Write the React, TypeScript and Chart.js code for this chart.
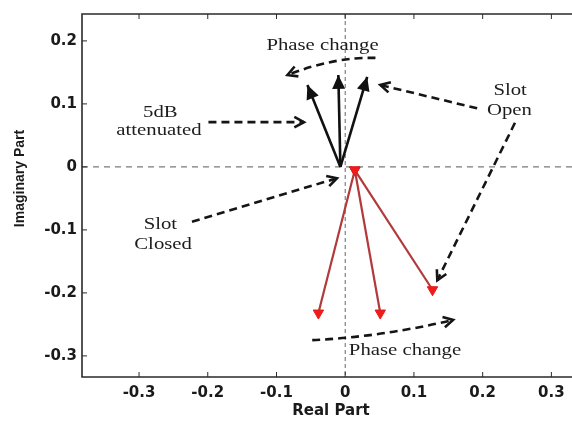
import React, { useEffect, useRef } from 'react';
import { Chart, registerables } from 'chart.js';
Chart.register(...registerables);

// ---- axis ticks ----
const xTickValues = [-0.3, -0.2, -0.1, 0, 0.1, 0.2, 0.3];
const xTickLabels = ['-0.3', '-0.2', '-0.1', '0', '0.1', '0.2', '0.3'];
const yTickValues = [-0.3, -0.2, -0.1, 0, 0.1, 0.2];
const yTickLabels = ['-0.3', '-0.2', '-0.1', '0', '0.1', '0.2'];

// ---- phasors (black: attenuated / phase change, red: other state) ----
const blackOrigin = [-0.007, 0.0];
const blackTipReal = [-0.055, -0.010, 0.032];
const blackTipImag = [0.130, 0.146, 0.143];

const redOrigin = [0.014, -0.005];
const redTipReal = [-0.039, 0.051, 0.127];
const redTipImag = [-0.232, -0.232, -0.195];

// ---- annotation texts (data coords of text centres) ----
const noteTexts = ['Phase change', '5dB', 'attenuated', 'Slot', 'Open', 'Slot', 'Closed', 'Phase change'];
const noteReal = [-0.033, -0.269, -0.271, 0.240, 0.239, -0.269, -0.265, 0.087];
const noteImag = [0.193, 0.086, 0.057, 0.122, 0.090, -0.091, -0.124, -0.292];

// ---- dashed pointer arrows: start, end, optional control (data coords) ----
const pointerStartReal = [0.044, -0.199, 0.192, 0.247, -0.223, -0.048];
const pointerStartImag = [0.173, 0.071, 0.093, 0.070, -0.087, -0.275];
const pointerEndReal = [-0.084, -0.060, 0.051, 0.134, -0.012, 0.157];
const pointerEndImag = [0.146, 0.071, 0.130, -0.180, -0.018, -0.243];
const pointerCtrlReal = [-0.015, null, null, null, null, 0.051];
const pointerCtrlImag = [0.175, null, null, null, null, -0.270];

const X_MIN = -0.383;
const X_MAX = 0.330;
const Y_MIN = -0.3335;
const Y_MAX = 0.2427;

function stretchedText(ctx: CanvasRenderingContext2D, s: string, cx: number, cy: number, sx: number) {
  ctx.save();
  ctx.translate(cx, cy);
  ctx.scale(sx, 1);
  ctx.textAlign = 'center';
  ctx.textBaseline = 'middle';
  ctx.fillText(s, 0, 0);
  ctx.restore();
}

function chevron(ctx: CanvasRenderingContext2D, tx: number, ty: number, ang: number, len: number, spread: number) {
  ctx.beginPath();
  ctx.moveTo(tx - len * Math.cos(ang - spread), ty - len * Math.sin(ang - spread));
  ctx.lineTo(tx, ty);
  ctx.lineTo(tx - len * Math.cos(ang + spread), ty - len * Math.sin(ang + spread));
  ctx.stroke();
}

const decor = {
  id: 'decor',
  beforeDatasetsDraw(chart: any) {
    const { ctx, chartArea: a, scales } = chart;
    const xs = scales.x, ys = scales.y;
    ctx.save();
    const y0 = ys.getPixelForValue(0);
    ctx.strokeStyle = '#7a7a7a';
    ctx.lineWidth = 1.2;
    ctx.setLineDash([6, 5]);
    ctx.beginPath();
    ctx.moveTo(a.left, y0);
    ctx.lineTo(a.right, y0);
    ctx.stroke();
    const x0 = xs.getPixelForValue(0);
    ctx.lineWidth = 1;
    ctx.strokeStyle = '#666';
    ctx.setLineDash([4, 3]);
    ctx.beginPath();
    ctx.moveTo(x0, a.top);
    ctx.lineTo(x0, a.bottom);
    ctx.stroke();
    ctx.restore();
  },
  afterDatasetsDraw(chart: any) {
    const { ctx, chartArea: a, scales } = chart;
    const xs = scales.x, ys = scales.y;
    ctx.save();

    // black phasor arrowheads
    for (let i = 0; i < 3; i++) {
      const meta = chart.getDatasetMeta(i);
      const p0 = meta.data[0], p1 = meta.data[1];
      const ang = Math.atan2(p1.y - p0.y, p1.x - p0.x);
      const L = 14, W = 6.5;
      const bx = p1.x - L * Math.cos(ang), by = p1.y - L * Math.sin(ang);
      ctx.fillStyle = '#111';
      ctx.beginPath();
      ctx.moveTo(p1.x, p1.y);
      ctx.lineTo(bx + W * Math.sin(ang), by - W * Math.cos(ang));
      ctx.lineTo(bx - W * Math.sin(ang), by + W * Math.cos(ang));
      ctx.closePath();
      ctx.fill();
    }

    // dashed pointer arrows
    ctx.strokeStyle = '#151515';
    ctx.lineWidth = 2.6;
    for (let i = 0; i < pointerStartReal.length; i++) {
      const sx = xs.getPixelForValue(pointerStartReal[i]);
      const sy = ys.getPixelForValue(pointerStartImag[i]);
      const ex = xs.getPixelForValue(pointerEndReal[i]);
      const ey = ys.getPixelForValue(pointerEndImag[i]);
      const hasCtrl = pointerCtrlReal[i] !== null;
      let fx = sx, fy = sy;
      ctx.setLineDash([8, 5]);
      ctx.beginPath();
      ctx.moveTo(sx, sy);
      if (hasCtrl) {
        const cx = xs.getPixelForValue(pointerCtrlReal[i] as number);
        const cy = ys.getPixelForValue(pointerCtrlImag[i] as number);
        ctx.quadraticCurveTo(cx, cy, ex, ey);
        fx = cx; fy = cy;
      } else {
        ctx.lineTo(ex, ey);
      }
      ctx.stroke();
      ctx.setLineDash([]);
      const ang = Math.atan2(ey - fy, ex - fx);
      chevron(ctx, ex, ey, ang, 11, 0.5);
    }

    // annotation texts
    ctx.fillStyle = '#1c1c1c';
    ctx.font = '17px "Liberation Serif"';
    for (let i = 0; i < noteTexts.length; i++) {
      stretchedText(ctx, noteTexts[i], xs.getPixelForValue(noteReal[i]), ys.getPixelForValue(noteImag[i]), 1.22);
    }

    // frame
    ctx.strokeStyle = '#2a2a2a';
    ctx.lineWidth = 1.6;
    ctx.beginPath();
    ctx.moveTo(a.right, a.top);
    ctx.lineTo(a.left, a.top);
    ctx.lineTo(a.left, a.bottom);
    ctx.lineTo(a.right, a.bottom);
    ctx.stroke();

    // inward tick marks
    ctx.lineWidth = 1;
    ctx.beginPath();
    for (const v of xTickValues) {
      const px = xs.getPixelForValue(v);
      ctx.moveTo(px, a.bottom);
      ctx.lineTo(px, a.bottom - 5);
      ctx.moveTo(px, a.top);
      ctx.lineTo(px, a.top + 5);
    }
    for (const v of yTickValues) {
      const py = ys.getPixelForValue(v);
      ctx.moveTo(a.left, py);
      ctx.lineTo(a.left + 5, py);
    }
    ctx.stroke();

    // axis titles
    ctx.fillStyle = '#1a1a1a';
    ctx.font = 'bold 15px "DejaVu Sans"';
    ctx.textAlign = 'center';
    ctx.textBaseline = 'middle';
    ctx.fillText('Real Part', 331, 411);
    ctx.save();
    ctx.translate(20, (a.top + a.bottom) / 2 - 17);
    ctx.rotate(-Math.PI / 2);
    ctx.font = 'bold 14px "Liberation Sans"';
    ctx.fillText('Imaginary Part', 0, 0);
    ctx.restore();

    ctx.restore();
  },
};

export default function App() {
  const ref = useRef<HTMLCanvasElement | null>(null);
  useEffect(() => {
    if (!ref.current) return;
    const blackSets = blackTipReal.map((tx, i) => ({
      label: 'state A ' + (i + 1),
      data: [
        { x: blackOrigin[0], y: blackOrigin[1] },
        { x: tx, y: blackTipImag[i] },
      ],
      showLine: true,
      borderColor: '#111',
      borderWidth: 2.6,
      pointRadius: 0,
    }));
    const redSets = redTipReal.map((tx, i) => ({
      label: 'state B ' + (i + 1),
      data: [
        { x: redOrigin[0], y: redOrigin[1] },
        { x: tx, y: redTipImag[i] },
      ],
      showLine: true,
      borderColor: '#b03a3c',
      borderWidth: 2.2,
      pointStyle: 'triangle',
      rotation: 180,
      pointRadius: 6,
      pointBackgroundColor: '#f01c1c',
      pointBorderColor: '#e81a1a',
      pointBorderWidth: 1,
    }));
    const chart = new Chart(ref.current, {
      type: 'scatter',
      data: { datasets: [...blackSets, ...redSets] as any },
      options: {
        animation: false,
        responsive: false,
        devicePixelRatio: 1,
        layout: { autoPadding: false, padding: { top: 14, right: 0, left: 0, bottom: 0 } },
        plugins: { legend: { display: false }, tooltip: { enabled: false } },
        scales: {
          x: {
            type: 'linear',
            min: X_MIN,
            max: X_MAX,
            grid: { display: false, drawTicks: false },
            border: { display: false },
            afterFit: (s: any) => { s.height = 46; s.paddingLeft = 0; s.paddingRight = 0; },
            afterBuildTicks: (s: any) => { s.ticks = xTickValues.map((v) => ({ value: v })); },
            ticks: {
              padding: 7,
              color: '#1a1a1a',
              font: { family: 'DejaVu Sans', size: 15, weight: 'bold' },
              callback: (v: any) => {
                const i = xTickValues.findIndex((t) => Math.abs(t - v) < 1e-9);
                return i >= 0 ? xTickLabels[i] : '';
              },
              maxRotation: 0,
              autoSkip: false,
            },
          },
          y: {
            type: 'linear',
            min: Y_MIN,
            max: Y_MAX,
            grid: { display: false, drawTicks: false },
            border: { display: false },
            afterFit: (s: any) => { s.width = 82; s.paddingTop = 0; s.paddingBottom = 0; },
            afterBuildTicks: (s: any) => { s.ticks = yTickValues.map((v) => ({ value: v })); },
            ticks: {
              padding: 5,
              color: '#1a1a1a',
              font: { family: 'DejaVu Sans', size: 15, weight: 'bold' },
              callback: (v: any) => {
                const i = yTickValues.findIndex((t) => Math.abs(t - v) < 1e-9);
                return i >= 0 ? yTickLabels[i] : '';
              },
              autoSkip: false,
            },
          },
        },
      },
      plugins: [decor],
    });
    return () => chart.destroy();
  }, []);
  return (
    <div style={{ position: 'fixed', left: 0, top: 0, width: 572, height: 423, background: '#fff' }}>
      <canvas ref={ref} width={572} height={423} style={{ width: 572, height: 423, display: 'block' }} />
    </div>
  );
}
